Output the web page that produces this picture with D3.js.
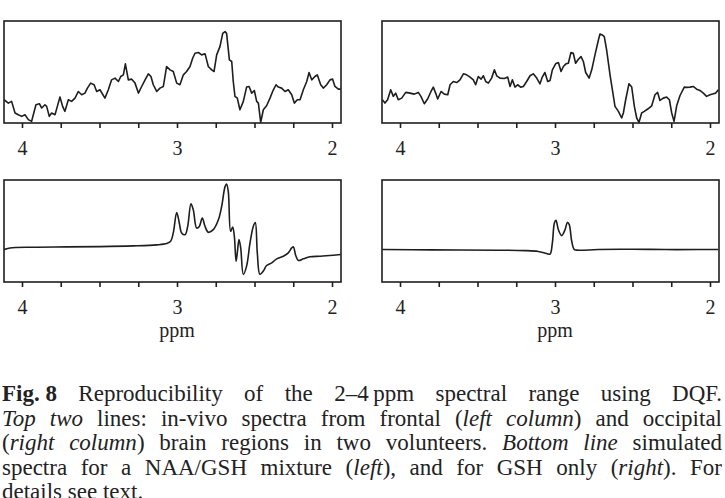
<!DOCTYPE html>
<html>
<head>
<meta charset="utf-8">
<script src="https://cdn.jsdelivr.net/npm/d3@7"></script>
<style>
  html, body { margin: 0; padding: 0; background: #fff; }
  svg { display: block; }
  text { font-family: "Liberation Serif", "DejaVu Serif", serif; fill: #222; }
</style>
</head>
<body>
<svg id="chart" width="725" height="498"></svg>
<script>
// ===== DATA (ppm on x, relative intensity 0..100 on y) =====
const frontalPpm = [4.116,4.088,4.067,4.045,4.024,4.002,3.981,3.959,3.938,3.927,3.910,3.888,3.873,3.852,3.841,3.824,3.809,3.787,3.772,3.755,3.738,3.723,3.701,3.680,3.658,3.637,3.615,3.594,3.578,3.557,3.535,3.518,3.497,3.465,3.443,3.422,3.400,3.378,3.363,3.346,3.333,3.314,3.292,3.271,3.249,3.228,3.206,3.185,3.168,3.153,3.131,3.110,3.088,3.067,3.045,3.024,3.002,2.981,2.959,2.938,2.916,2.899,2.884,2.862,2.841,2.819,2.798,2.776,2.761,2.744,2.723,2.705,2.690,2.680,2.662,2.647,2.637,2.626,2.611,2.594,2.572,2.551,2.535,2.518,2.501,2.486,2.475,2.460,2.443,2.422,2.400,2.383,2.361,2.346,2.325,2.303,2.282,2.260,2.243,2.224,2.206,2.185,2.163,2.148,2.131,2.110,2.095,2.073,2.056,2.034,2.013,1.996,1.981,1.959,1.944];
const frontalInt = [22.8,19.5,21.2,9.8,8.1,6.5,8.1,3.3,1.6,8.1,17.9,18.9,14.7,17.9,16.3,6.5,9.8,8.1,16.3,25.4,16.3,11.4,22.8,21.2,24.4,30.9,27.7,29.3,34.2,39.1,37.5,30.9,32.6,24.4,32.6,42.3,44.0,40.7,45.6,47.2,58.0,42.3,43.0,39.1,29.3,35.8,42.3,48.2,45.6,37.5,30.9,34.2,35.8,55.4,52.1,50.5,39.1,37.5,47.2,50.5,55.4,63.5,68.4,69.1,66.8,67.8,55.4,52.1,50.5,66.8,74.9,87.9,89.6,87.9,61.9,60.3,40.7,26.1,24.4,13.0,21.2,35.2,35.8,29.3,31.9,21.2,19.5,0.7,13.0,16.9,24.4,30.9,37.5,35.2,34.2,30.9,32.6,27.7,19.5,22.8,22.8,32.6,40.7,49.5,42.3,45.6,47.2,37.5,34.2,37.5,42.3,43.0,35.8,33.2,33.2];

const occipitalPpm = [4.114,4.097,4.080,4.060,4.043,4.028,4.011,3.989,3.963,3.935,3.908,3.882,3.865,3.843,3.822,3.800,3.785,3.770,3.757,3.735,3.714,3.692,3.677,3.656,3.634,3.613,3.591,3.570,3.548,3.527,3.512,3.495,3.477,3.462,3.447,3.430,3.409,3.391,3.376,3.355,3.327,3.305,3.290,3.275,3.258,3.241,3.222,3.204,3.183,3.161,3.140,3.118,3.097,3.082,3.065,3.047,3.032,3.017,2.996,2.978,2.961,2.946,2.929,2.914,2.897,2.882,2.867,2.849,2.832,2.817,2.802,2.780,2.763,2.742,2.720,2.710,2.695,2.682,2.667,2.645,2.630,2.613,2.591,2.570,2.559,2.544,2.523,2.505,2.488,2.473,2.458,2.441,2.424,2.402,2.376,2.355,2.338,2.323,2.301,2.280,2.262,2.247,2.232,2.215,2.194,2.166,2.151,2.129,2.108,2.086,2.065,2.043,2.022,2.000,1.978,1.963,1.946];
const occipitalInt = [22.8,19.5,22.8,32.6,26.1,29.3,22.8,24.4,30.0,29.3,28.3,30.0,26.1,18.9,23.5,30.9,35.2,29.3,23.5,30.9,28.3,27.7,37.5,40.7,39.7,42.3,48.2,47.2,45.0,42.3,37.5,45.6,43.0,46.3,40.7,39.1,44.0,52.1,46.3,44.0,43.6,45.0,35.8,42.3,35.2,37.5,35.2,35.8,40.7,46.3,48.2,44.0,38.4,45.0,49.5,40.7,41.7,52.1,58.0,59.3,50.5,55.4,58.0,58.6,69.1,68.4,58.6,62.5,65.1,60.3,49.5,44.0,52.1,66.8,81.4,87.3,86.3,84.7,71.7,47.2,32.6,16.3,11.4,4.9,9.8,22.8,38.4,35.2,16.3,4.9,0.7,9.8,11.4,13.7,16.9,27.7,30.0,22.1,24.4,25.4,22.8,9.8,1.6,16.9,26.7,35.2,34.9,35.2,35.8,33.2,31.9,29.3,26.1,27.7,28.7,29.3,32.6];

const mixturePpm = [4.116,4.099,4.077,3.927,3.712,3.497,3.282,3.131,3.067,3.041,3.024,3.002,2.985,2.970,2.948,2.931,2.910,2.895,2.873,2.856,2.837,2.819,2.798,2.766,2.733,2.712,2.690,2.680,2.669,2.654,2.641,2.630,2.619,2.611,2.600,2.589,2.572,2.551,2.529,2.508,2.495,2.482,2.465,2.443,2.422,2.389,2.357,2.314,2.282,2.260,2.249,2.234,2.217,2.185,2.142,2.077,1.991,1.944];
const mixtureInt = [31.8,32.5,33.4,34.1,34.4,34.7,35.4,36.4,37.7,39.9,48.1,68.2,57.8,48.1,46.4,54.5,76.6,70.8,52.9,54.5,62.7,54.5,48.7,51.3,61.0,74.0,93.5,96.1,88.6,49.7,53.9,44.8,20.5,28.6,41.6,33.4,7.5,15.6,38.3,54.5,58.4,28.6,7.5,10.7,16.2,18.8,22.7,25.3,28.6,33.4,34.4,26.0,21.1,22.7,24.7,25.3,26.3,26.9];

const gshPpm = [4.114,3.796,3.366,3.194,3.108,3.054,3.032,3.017,3.004,2.994,2.978,2.957,2.935,2.920,2.908,2.892,2.875,2.849,2.720,2.505,2.290,2.075,1.946];
const gshInt = [31.8,31.5,31.2,30.8,29.9,27.9,27.3,38.3,57.8,60.4,51.3,45.5,51.3,58.4,56.2,39.9,31.8,31.2,31.8,32.1,31.8,31.8,31.8];

const tickPpm = [4, 3.75, 3.5, 3.25, 3, 2.75, 2.5, 2.25, 2];
const tickLabels = ['4', '', '', '', '3', '', '', '', '2'];
const axisTitle = 'ppm';

const captionLines = [
    [['Fig.\u00a08', 'b'], [' Reproducibility of the 2\u20134\u2009ppm spectral range using DQF.', 'n']],
    [['Top two', 'i'], [' lines: in-vivo spectra from frontal (', 'n'], ['left column', 'i'], [') and occipital', 'n']],
    [['(', 'n'], ['right column', 'i'], [') brain regions in two volunteers. ', 'n'], ['Bottom line', 'i'], [' simulated', 'n']],
    [['spectra for a NAA/GSH mixture (', 'n'], ['left', 'i'], ['), and for GSH only (', 'n'], ['right', 'i'], ['). For', 'n']],
    [['details see text.', 'n']]
];

// ===== LAYOUT =====
const svg = d3.select('#chart');
const ink = '#1e1e1e';
const frameW = 337, frameH = 102;
const panels = [
    { left: 4,   top: 21,  ppm: frontalPpm,   val: frontalInt,   smooth: false, title: false },
    { left: 382, top: 21,  ppm: occipitalPpm, val: occipitalInt, smooth: false, title: false },
    { left: 4,   top: 180, ppm: mixturePpm,   val: mixtureInt,   smooth: true,  title: true },
    { left: 382, top: 180, ppm: gshPpm,       val: gshInt,       smooth: true,  title: true }
];

const y = d3.scaleLinear().domain([0, 100]).range([frameH, 0]);

panels.forEach((p, i) => {
    const x = d3.scaleLinear().domain([4, 2]).range([18, 328]);
    const g = svg.append('g').attr('transform', `translate(${p.left},${p.top})`);

    g.append('clipPath').attr('id', `clip${i}`)
        .append('rect').attr('width', frameW).attr('height', frameH);

    const line = d3.line()
        .x((d, k) => x(p.ppm[k]))
        .y(d => y(d))
        .curve(p.smooth ? d3.curveCatmullRom.alpha(0.5) : d3.curveLinear);

    g.append('path')
        .attr('d', line(p.val))
        .attr('clip-path', `url(#clip${i})`)
        .attr('fill', 'none')
        .attr('stroke', ink)
        .attr('stroke-width', 1.6)
        .attr('stroke-linejoin', 'round');

    g.append('rect')
        .attr('width', frameW).attr('height', frameH)
        .attr('fill', 'none').attr('stroke', ink).attr('stroke-width', 1.6);

    const axis = d3.axisBottom(x)
        .tickValues(tickPpm)
        .tickSize(5)
        .tickPadding(13)
        .tickFormat((d, k) => tickLabels[k]);

    const ax = g.append('g').attr('transform', `translate(0,${frameH})`).call(axis);
    ax.select('.domain').remove();
    ax.selectAll('.tick line').attr('stroke', ink).attr('stroke-width', 1.6);
    ax.selectAll('.tick text')
        .attr('fill', ink)
        .style('font-family', '"Liberation Serif", serif')
        .style('font-size', '20px');

    if (p.title) {
        g.append('text')
            .attr('x', x(3)).attr('y', 157)
            .attr('text-anchor', 'middle')
            .style('font-size', '20px')
            .text(axisTitle);
    }
});

// ===== CAPTION (justified, mixed styles) =====
const capLeft = 2, capRight = 722, capTop = 401, capLead = 24.5;
const capSize = 23;

captionLines.forEach((segs, li) => {
    // split segments into words, each word a list of styled pieces
    const words = [];
    let cur = [];
    segs.forEach(([txt, st]) => {
        txt.split(' ').forEach((part, k) => {
            if (k > 0) { if (cur.length) words.push(cur); cur = []; }
            if (part.length) cur.push([part, st]);
        });
    });
    if (cur.length) words.push(cur);

    const nodes = words.map(w => {
        const t = svg.append('text')
            .attr('y', capTop + li * capLead)
            .style('font-size', capSize + 'px');
        w.forEach(([txt, st]) => {
            t.append('tspan')
                .style('font-style', st === 'i' ? 'italic' : 'normal')
                .style('font-weight', st === 'b' ? 'bold' : 'normal')
                .text(txt);
        });
        return t;
    });

    const widths = nodes.map(n => n.node().getComputedTextLength());
    const total = d3.sum(widths);
    const last = li === captionLines.length - 1;
    const gap = (!last && nodes.length > 1)
        ? (capRight - capLeft - total) / (nodes.length - 1)
        : capSize * 0.25;
    let cx = capLeft;
    nodes.forEach((n, k) => {
        n.attr('x', cx);
        cx += widths[k] + gap;
    });
});
</script>
</body>
</html>
